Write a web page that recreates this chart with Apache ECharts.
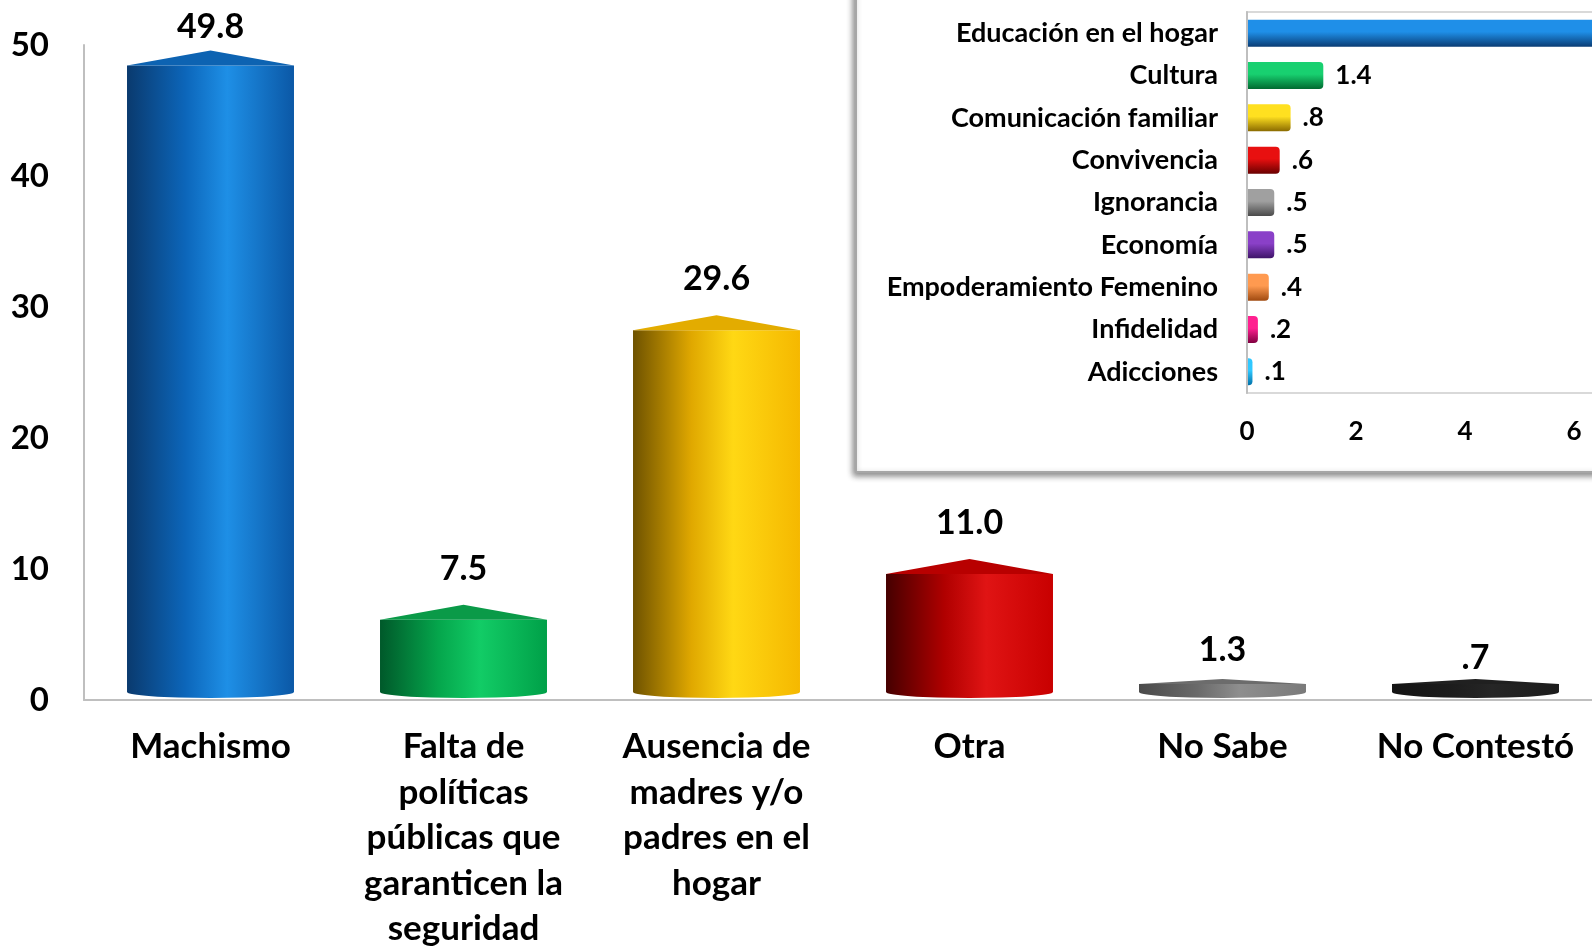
<!DOCTYPE html>
<html>
<head>
<meta charset="utf-8">
<script src="https://cdn.jsdelivr.net/npm/echarts@6/dist/echarts.min.js"></script>
<style>
  html, body { margin: 0; padding: 0; background: #fff; }
  #main { width: 1592px; height: 947px; }
</style>
</head>
<body>
<div id="main"></div>
<script>
// datos de la grafica principal
var categorias = ['Machismo', 'Falta de\npolíticas\npúblicas que\ngaranticen la\nseguridad',
    'Ausencia de\nmadres y/o\npadres en el\nhogar', 'Otra', 'No Sabe', 'No Contestó'];
var valores = [49.8, 7.5, 29.6, 11.0, 1.3, 0.7];

// desglose de "Otra"
var otrasCategorias = ['Educación en el hogar', 'Cultura', 'Comunicación familiar', 'Convivencia',
    'Ignorancia', 'Economía', 'Empoderamiento Femenino', 'Infidelidad', 'Adicciones'];
var otrasValores = [6.5, 1.4, 0.8, 0.6, 0.5, 0.5, 0.4, 0.2, 0.1];

var ejeY = [0, 10, 20, 30, 40, 50];
var ejeX2 = [0, 2, 4, 6, 8];

// colores (oscuro, medio, claro, borde derecho, tapa)
var coloresPrincipal = [
    ['#0a3a6e', '#0c66ba', '#1e8fe6', '#0b58a6', '#0d63b2'],
    ['#00592a', '#05a64c', '#12cc66', '#00a048', '#0a9a48'],
    ['#6e5200', '#e0a800', '#ffd814', '#f5b800', '#e3ac00'],
    ['#450000', '#b00000', '#e01414', '#c80000', '#b80000'],
    ['#4a4a4a', '#6a6a6a', '#8e8e8e', '#7a7a7a', '#6c6c6c'],
    ['#141414', '#1c1c1c', '#262626', '#1c1c1c', '#202020']
];
var coloresOtras = [
    ['#1f8fe8', '#0a3d75'], ['#18d070', '#006a30'], ['#ffe020', '#8a6a00'],
    ['#e81010', '#6a0000'], ['#a0a0a0', '#4a4a4a'], ['#8a40c8', '#3e1468'],
    ['#ff9a50', '#a04a10'], ['#ff2090', '#800040'], ['#30c8ff', '#0070a8']
];

function fmt(v) {
    var s = v.toFixed(1);
    return s.charAt(0) === '0' ? s.substring(1) : s;
}

var FUENTE = 'Lato, "Noto Sans", sans-serif';

function cilindro(params, api) {
    var idx = api.value(0), v = api.value(1);
    var top = api.coord([idx, v]);
    var base = api.coord([idx, 0]);
    var w = api.size([1, 0])[0] * 0.66;
    var xc = top[0], x0 = xc - w / 2, x1 = xc + w / 2;
    var y0 = base[1] - 2, yv = top[1];
    var ry = 6, capH = 15;
    var peak = yv + 3;
    var yc = Math.min(peak + capH, y0 - 2 * ry - 2);
    peak = Math.min(peak, yc - 5);
    var c = coloresPrincipal[idx];
    var grad = {
        type: 'linear', x: 0, y: 0, x2: 1, y2: 0,
        colorStops: [
            { offset: 0, color: c[0] }, { offset: 0.35, color: c[1] },
            { offset: 0.6, color: c[2] }, { offset: 1, color: c[3] }
        ]
    };
    var body = 'M' + x0 + ',' + yc + ' L' + x0 + ',' + (y0 - ry) +
        ' A' + (w / 2) + ',' + ry + ' 0 0 0 ' + x1 + ',' + (y0 - ry) +
        ' L' + x1 + ',' + yc + ' Z';
    return {
        type: 'group',
        children: [
            { type: 'path', shape: { pathData: body }, style: { fill: grad } },
            { type: 'polygon', shape: { points: [[x0, yc], [xc, peak], [x1, yc]] },
              style: { fill: c[4] } },
            { type: 'text', style: {
                text: fmt(v), x: xc, y: Math.max(yv - 16, 44),
                textAlign: 'center', textVerticalAlign: 'bottom',
                align: 'center', verticalAlign: 'bottom',
                font: 'bold 34px ' + FUENTE, fill: '#000'
            } }
        ]
    };
}

var myChart = echarts.init(document.getElementById('main'));

var datosPrincipal = valores.map(function (v, i) { return [i, v]; });
var datosOtras = otrasValores.map(function (v, i) {
    return {
        value: v,
        itemStyle: {
            color: {
                type: 'linear', x: 0, y: 0, x2: 0, y2: 1,
                colorStops: [
                    { offset: 0, color: coloresOtras[i][0] },
                    { offset: 0.45, color: coloresOtras[i][0] },
                    { offset: 1, color: coloresOtras[i][1] }
                ]
            }
        }
    };
});

var option = {
    animation: false,
    backgroundColor: '#fff',
    textStyle: { fontFamily: FUENTE },
    graphic: [{
        type: 'rect', z: 1,
        shape: { x: 856, y: -20, width: 800, height: 492 },
        style: {
            fill: '#fff', stroke: '#a6a6a6', lineWidth: 2,
            shadowBlur: 6, shadowColor: 'rgba(0,0,0,0.45)',
            shadowOffsetX: -2, shadowOffsetY: 3
        }
    }],
    grid: [
        { left: 84, width: 1518, top: 45, bottom: 247, containLabel: false, outerBoundsMode: 'none' },
        { left: 1247, width: 436, top: 12, height: 381, containLabel: false, outerBoundsMode: 'none',
          show: true, borderColor: '#d9d9d9', borderWidth: 2, z: 3 }
    ],
    xAxis: [
        {
            type: 'category', gridIndex: 0, data: categorias,
            axisLine: { lineStyle: { color: '#bfbfbf', width: 2 } },
            axisTick: { show: false },
            axisLabel: {
                interval: 0, margin: 24, color: '#000', fontWeight: 'bold',
                fontSize: 35, lineHeight: 45.5, fontFamily: FUENTE
            }
        },
        {
            type: 'value', gridIndex: 1, z: 5,
            min: ejeX2[0], max: ejeX2[ejeX2.length - 1], interval: 2,
            axisLine: { show: false }, axisTick: { show: false },
            splitLine: { show: false },
            axisLabel: { margin: 26, color: '#000', fontWeight: 'bold', fontSize: 26, fontFamily: FUENTE }
        }
    ],
    yAxis: [
        {
            type: 'value', gridIndex: 0, min: ejeY[0], max: ejeY[ejeY.length - 1], interval: 10,
            axisLine: { show: true, lineStyle: { color: '#bfbfbf', width: 2 } },
            axisTick: { show: false }, splitLine: { show: false },
            axisLabel: { margin: 35, color: '#000', fontWeight: 'bold', fontSize: 33, fontFamily: FUENTE }
        },
        {
            type: 'category', gridIndex: 1, z: 5, data: otrasCategorias, inverse: true,
            axisLine: { show: true, lineStyle: { color: '#bfbfbf', width: 2 } },
            axisTick: { show: false },
            axisLabel: { margin: 29, color: '#000', fontWeight: 'bold', fontSize: 27, fontFamily: FUENTE }
        }
    ],
    series: [
        {
            type: 'custom', xAxisIndex: 0, yAxisIndex: 0,
            renderItem: cilindro, data: datosPrincipal,
            encode: { x: 0, y: 1 }, clip: false
        },
        {
            type: 'bar', xAxisIndex: 1, yAxisIndex: 1, z: 4,
            barWidth: 27, data: datosOtras,
            itemStyle: { borderRadius: [0, 4, 4, 0] },
            label: {
                show: true, position: 'right', distance: 12,
                color: '#000', fontWeight: 'bold', fontSize: 26, fontFamily: FUENTE,
                formatter: function (p) { return fmt(p.value); }
            }
        }
    ]
};

myChart.setOption(option);
</script>
</body>
</html>
